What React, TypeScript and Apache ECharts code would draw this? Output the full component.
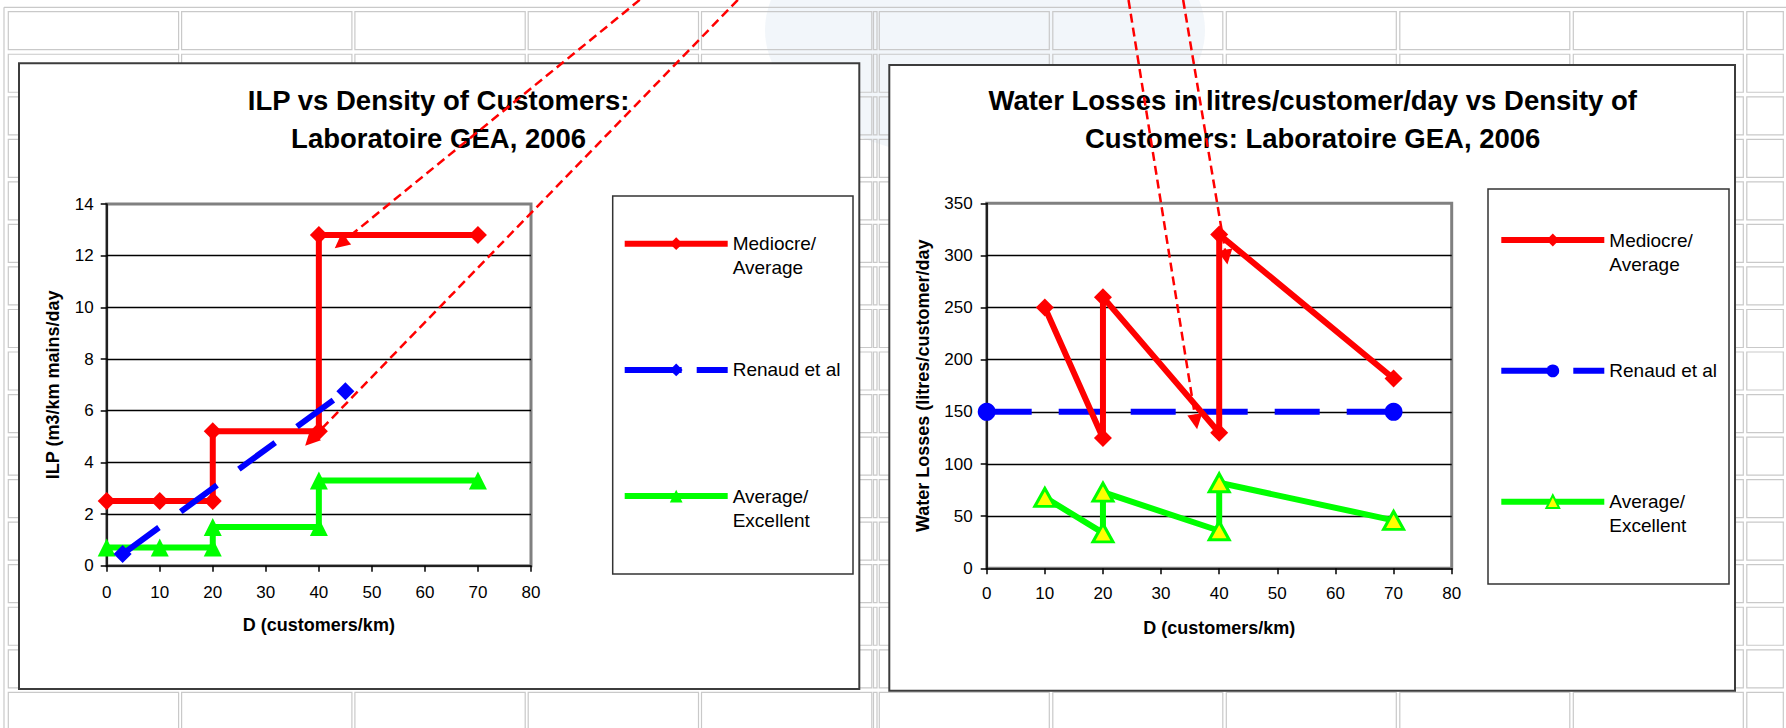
import React, { useEffect, useRef } from "react";
import * as echarts from "echarts";

const FONT = '"Liberation Sans", Arial, Helvetica, sans-serif';
const RED = "#FF0000";
const BLUE = "#0000FF";
const GREEN = "#00FF00";
const YELLOW = "#FFFF00";

// ---------------- data ----------------
// x axis: D (customers/km)
const densityRange = [0, 80];
const densityStep = 10;
// left chart: ILP (m3/km mains/day)
const ilpRange = [0, 14];
const ilpStep = 2;
// right chart: water losses (litres/customer/day)
const lossRange = [0, 350];
const lossStep = 50;

const ilpMediocre = [[0, 2.5], [10, 2.5], [20, 2.5], [20, 5.2], [40, 5.2], [40, 12.8], [70, 12.8]];
const ilpRenaud = [[3, 0.45], [45, 6.75]];
const ilpExcellent = [[0, 0.7], [10, 0.7], [20, 0.7], [20, 1.5], [40, 1.5], [40, 3.3], [70, 3.3]];

const lossMediocre = [[10, 250], [20, 125], [20, 260], [40, 130], [40, 320], [70, 182]];
const lossRenaud = [[0, 150], [70, 150]];
const lossExcellent = [[10, 68], [20, 34], [20, 73], [40, 36], [40, 82], [70, 46]];

// red dashed annotation arrows (from off-page to an arrowhead), in data units
const ilpArrows = [
  [[100.5, 21.9], [44.1, 12.47]],
  [[119, 21.9], [38.4, 4.85]],
];
const lossArrows = [
  [[24.4, 545], [36.0, 140.5]],
  [[33.8, 545], [41.2, 298.4]],
];

const legendLabels: Record<string, string[]> = {
  "Mediocre/Average": ["Mediocre/", "Average"],
  "Renaud et al": ["Renaud et al", " "],
  "Average/Excellent": ["Average/", "Excellent"],
};

const titles = [
  "ILP vs Density of Customers:\nLaboratoire GEA, 2006",
  "Water Losses in litres/customer/day vs Density of\nCustomers: Laboratoire GEA, 2006",
];
const yNames = ["ILP (m3/km mains/day", "Water Losses (litres/customer/day"];
const xName = "D (customers/km)";

// ---------------- background (spreadsheet grid) ----------------
function buildBackground() {
  const els: any[] = [];
  els.push({
    type: "ellipse",
    shape: { cx: 985, cy: 30, rx: 220, ry: 130 },
    style: { fill: "rgba(190,208,230,0.2)" },
    z: -30,
    silent: true,
  });
  const gridStroke = { stroke: "#c9c9c9", lineWidth: 1.2, fill: "none" };
  els.push({ type: "line", shape: { x1: 4, y1: 7.3, x2: 1786, y2: 7.3 }, style: gridStroke, z: -20, silent: true });
  els.push({ type: "line", shape: { x1: 4, y1: 7.3, x2: 4, y2: 728 }, style: gridStroke, z: -20, silent: true });
  const cols: [number, number][] = [];
  for (let i = 0; i < 5; i++) cols.push([8.3 + 173.3 * i, 170.3]);
  cols.push([873.5, 3.5]);
  for (let i = 0; i < 6; i++) {
    const l = 879.3 + 173.5 * i;
    cols.push([l, Math.min(170, 1783.3 - l)]);
  }
  for (let r = 0; r < 17; r++) {
    const top = 11.7 + 42.54 * r;
    for (const [l, w] of cols) {
      els.push({
        type: "rect",
        shape: { x: l, y: top, width: w, height: 38 },
        style: gridStroke,
        z: -20,
        silent: true,
      });
    }
  }
  // chart frames
  const frameStyle = { fill: "#ffffff", stroke: "#3c3c3c", lineWidth: 2 };
  els.push({ type: "rect", shape: { x: 19, y: 63.3, width: 840.3, height: 625.7 }, style: frameStyle, z: -10, silent: true });
  els.push({ type: "rect", shape: { x: 889.3, y: 65, width: 845.7, height: 625.7 }, style: frameStyle, z: -10, silent: true });
  return els;
}

// ---------------- axes ----------------
function xAxis(gridIndex: number, nameGap: number, labelMargin: number) {
  return {
    gridIndex,
    type: "value",
    min: densityRange[0],
    max: densityRange[1],
    interval: densityStep,
    name: xName,
    nameLocation: "middle",
    nameGap,
    nameTextStyle: { fontSize: 18, fontWeight: "bold", color: "#000", fontFamily: FONT },
    axisLine: { show: true, onZero: false, lineStyle: { color: "#000", width: 1.5 } },
    axisTick: { show: true, inside: false, length: 6, lineStyle: { color: "#000", width: 1.5 } },
    axisLabel: { fontSize: 17, color: "#000", margin: labelMargin, fontFamily: FONT },
    splitLine: { show: false },
  };
}

function yAxis(gridIndex: number, range: number[], step: number, name: string, nameGap: number, labelMargin: number) {
  return {
    gridIndex,
    type: "value",
    min: range[0],
    max: range[1],
    interval: step,
    name,
    nameLocation: "middle",
    nameGap,
    nameTextStyle: { fontSize: 18, fontWeight: "bold", color: "#000", fontFamily: FONT },
    axisLine: { show: true, onZero: false, lineStyle: { color: "#000", width: 1.5 } },
    axisTick: { show: true, inside: false, length: 6, lineStyle: { color: "#000", width: 1.5 } },
    axisLabel: { fontSize: 17, color: "#000", margin: labelMargin, fontFamily: FONT },
    splitLine: { show: true, showMinLine: false, showMaxLine: false, lineStyle: { color: "#000", width: 1.3 } },
  };
}

// ---------------- series ----------------
function lineSeries(prefix: string, label: string, idx: number, data: number[][], extra: any) {
  return {
    type: "line",
    name: `${prefix}: ${label}`,
    xAxisIndex: idx,
    yAxisIndex: idx,
    data,
    showSymbol: true,
    emphasis: { disabled: true },
    ...extra,
  };
}

function arrowSeries(idx: number, arrows: number[][][]) {
  return {
    type: "lines",
    coordinateSystem: "cartesian2d",
    xAxisIndex: idx,
    yAxisIndex: idx,
    clip: false,
    z: 10,
    silent: true,
    symbol: ["none", "triangle"],
    symbolSize: 15,
    lineStyle: { color: RED, width: 2.5, type: [9, 5], opacity: 1, curveness: 0 },
    data: arrows.map((c) => ({ coords: c })),
  };
}

function legend(prefix: string, box: any) {
  return {
    orient: "vertical",
    left: box.left,
    top: box.top,
    padding: box.padding,
    itemGap: box.gap,
    itemWidth: 103,
    itemHeight: 16,
    borderColor: "#333",
    borderWidth: 1.5,
    selectedMode: false,
    lineStyle: { width: 6 },
    formatter: (n: string) => {
      const lines = legendLabels[n.split(": ")[1]] || [n, " "];
      return ` \n${lines[0]}\n${lines[1]}`;
    },
    textStyle: {
      fontSize: 19,
      lineHeight: 24,
      color: "#000",
      fontFamily: FONT,
      width: 110,
    },
    data: [
      { name: `${prefix}: Mediocre/Average` },
      { name: `${prefix}: Renaud et al`, lineStyle: { type: [57, 15], width: 6 } },
      { name: `${prefix}: Average/Excellent` },
    ],
  };
}

const titleStyle = { fontSize: 27.5, fontWeight: "bold", color: "#000", lineHeight: 38, fontFamily: FONT };

const option: any = {
  animation: false,
  textStyle: { fontFamily: FONT },
  graphic: { elements: buildBackground() },
  title: [
    { text: titles[0], left: 438.6, top: 81, textAlign: "center", textVerticalAlign: "top", padding: 0, textStyle: titleStyle },
    { text: titles[1], left: 1312.7, top: 81, textAlign: "center", textVerticalAlign: "top", padding: 0, textStyle: titleStyle },
  ],
  legend: [
    legend("ILP", { left: 612.7, top: 196, padding: [11.7, 10.3, 41.9, 9], gap: 54.2 }),
    legend("Losses", { left: 1488, top: 189, padding: [15, 9.7, 46.3, 10.3], gap: 58.85 }),
  ],
  grid: [
    { left: 106.7, top: 204, width: 424.3, height: 361.7, show: true, backgroundColor: "#fff", borderColor: "#808080", borderWidth: 3 },
    { left: 986.7, top: 203.3, width: 465, height: 365, show: true, backgroundColor: "#fff", borderColor: "#808080", borderWidth: 3 },
  ],
  xAxis: [xAxis(0, 50, 18), xAxis(1, 51, 17)],
  yAxis: [
    yAxis(0, ilpRange, ilpStep, yNames[0], 45, 13),
    yAxis(1, lossRange, lossStep, yNames[1], 55, 14),
  ],
  series: [
    lineSeries("ILP", "Mediocre/Average", 0, ilpMediocre, {
      symbol: "diamond",
      symbolSize: 18,
      lineStyle: { color: RED, width: 6 },
      itemStyle: { color: RED },
    }),
    lineSeries("ILP", "Average/Excellent", 0, ilpExcellent, {
      symbol: "triangle",
      symbolSize: 18,
      lineStyle: { color: GREEN, width: 6 },
      itemStyle: { color: GREEN },
    }),
    lineSeries("ILP", "Renaud et al", 0, ilpRenaud, {
      symbol: "diamond",
      symbolSize: 18,
      lineStyle: { color: BLUE, width: 6, type: [45, 27] },
      itemStyle: { color: BLUE },
    }),
    lineSeries("Losses", "Renaud et al", 1, lossRenaud, {
      symbol: "circle",
      symbolSize: 18,
      lineStyle: { color: BLUE, width: 6, type: [45, 27] },
      itemStyle: { color: BLUE },
    }),
    lineSeries("Losses", "Mediocre/Average", 1, lossMediocre, {
      symbol: "diamond",
      symbolSize: 18,
      lineStyle: { color: RED, width: 6 },
      itemStyle: { color: RED },
    }),
    lineSeries("Losses", "Average/Excellent", 1, lossExcellent, {
      symbol: "triangle",
      symbolSize: [20, 18],
      lineStyle: { color: GREEN, width: 6 },
      itemStyle: { color: YELLOW, borderColor: GREEN, borderWidth: 3 },
    }),
    arrowSeries(0, ilpArrows),
    arrowSeries(1, lossArrows),
  ],
};

export default function App() {
  const ref = useRef<HTMLDivElement>(null);
  useEffect(() => {
    if (!ref.current) return;
    const chart = echarts.init(ref.current, undefined, { renderer: "svg" });
    chart.setOption(option);
    return () => chart.dispose();
  }, []);
  return (
    <div
      ref={ref}
      style={{ position: "absolute", left: 0, top: 0, width: 1786, height: 728, background: "#fff" }}
    />
  );
}
